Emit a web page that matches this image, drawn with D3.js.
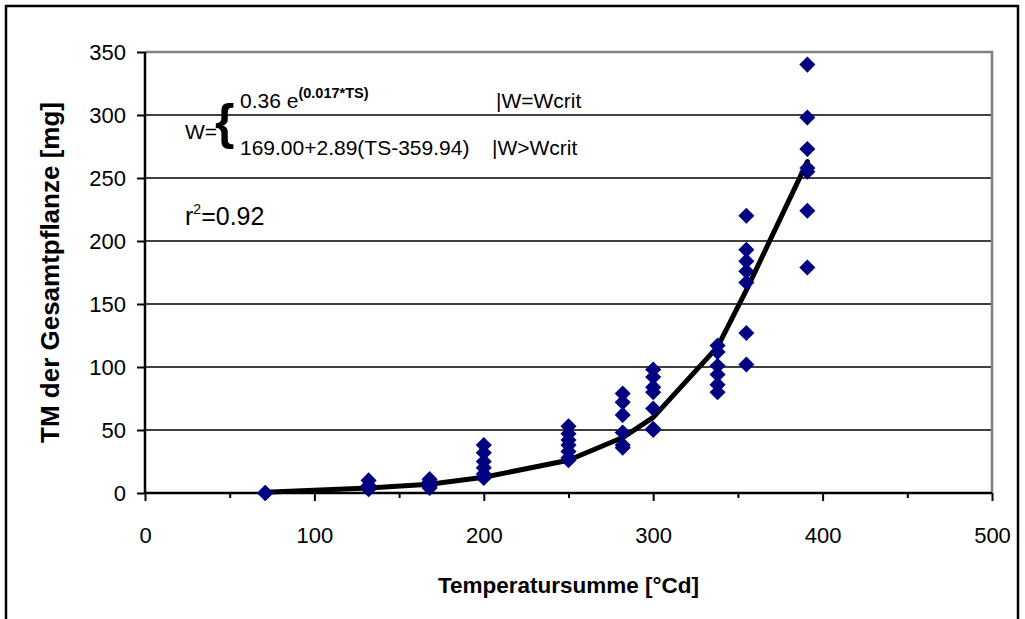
<!DOCTYPE html>
<html>
<head>
<meta charset="utf-8">
<script src="https://cdn.jsdelivr.net/npm/d3@7"></script>
<style>
  body { margin: 0; background: #fff; }
  text { font-family: "Liberation Sans", Arial, sans-serif; fill: #000; }
</style>
</head>
<body>
<script>
// Temperature sums (x) where plants were sampled
const tempSum = [71, 132, 168, 200, 250, 282, 300, 338, 355, 391];
// observed dry matter per sample date (mg)
const observed = [
    [0, 0, 0],
    [10, 6, 4, 3],
    [11, 9, 7, 5, 4],
    [38, 32, 25, 20, 15, 12],
    [53, 47, 42, 38, 33, 28, 26],
    [79, 72, 62, 48, 38, 36],
    [98, 92, 84, 80, 67, 51, 50],
    [117, 112, 101, 94, 86, 80],
    [220, 193, 184, 176, 167, 127, 102],
    [340, 298, 273, 258, 255, 224, 179]
];
// fitted model curve
const fitted = [0.5, 4, 7, 12.5, 26, 44, 60, 116, 161, 263];

const xTicks = [0, 100, 200, 300, 400, 500];
const xMinor = [50, 150, 250, 350, 450];
const yTicks = [0, 50, 100, 150, 200, 250, 300, 350];

const W = 1025, H = 619;
const plot = {left: 145, right: 992, top: 52, bottom: 493};

const svg = d3.select("body").append("svg")
    .attr("width", W)
    .attr("height", H);

// outer frame
svg.append("rect")
    .attr("x", 6).attr("y", 6)
    .attr("width", 1012).attr("height", 640)
    .style("fill", "none")
    .style("stroke", "#000")
    .style("stroke-width", 2.5);

const x = d3.scaleLinear().domain([0, 500]).range([plot.left, plot.right]);
const y = d3.scaleLinear().domain([0, 350]).range([plot.bottom, plot.top]);

// gridlines
svg.append("g")
    .selectAll("line")
    .data(yTicks.filter(d => d > 0 && d < 350))
    .enter().append("line")
    .attr("x1", plot.left).attr("x2", plot.right)
    .attr("y1", d => y(d)).attr("y2", d => y(d))
    .style("stroke", "#000")
    .style("stroke-width", 1.5);

// plot area border (top, right) in grey
svg.append("path")
    .attr("d", "M" + plot.left + "," + y(350) + "H" + plot.right + "V" + plot.bottom)
    .style("fill", "none")
    .style("stroke", "#808080")
    .style("stroke-width", 2.5);

// y axis
const yAxis = svg.append("g")
    .attr("transform", "translate(" + plot.left + ",0)")
    .call(d3.axisLeft(y).tickValues(yTicks).tickSize(8).tickPadding(11));

// x axis
const xAxis = svg.append("g")
    .attr("transform", "translate(0," + plot.bottom + ")")
    .call(d3.axisBottom(x).tickValues(xTicks).tickSize(8).tickPadding(26));

svg.append("g")
    .attr("transform", "translate(0," + plot.bottom + ")")
    .call(d3.axisBottom(x).tickValues(xMinor).tickSize(5).tickFormat(""))
    .select(".domain").remove();

svg.selectAll(".tick line").style("stroke", "#000").style("stroke-width", 2);
svg.selectAll(".domain").style("stroke", "#000").style("stroke-width", 2.5);
yAxis.select(".domain").attr("d", "M0," + y(350) + "V" + plot.bottom);
xAxis.select(".domain").attr("d", "M" + plot.left + ",0H" + plot.right);
svg.selectAll(".tick text")
    .style("font-family", "'Liberation Sans', Arial, sans-serif")
    .style("font-size", "22px")
    .style("fill", "#000");

// fitted curve
const line = d3.line()
    .x((d, i) => x(tempSum[i]))
    .y(d => y(d));

svg.append("path")
    .datum(fitted)
    .attr("d", line)
    .style("fill", "none")
    .style("stroke", "#000")
    .style("stroke-width", 5)
    .style("stroke-linejoin", "round")
    .style("stroke-linecap", "round");

// observations as diamonds
const points = [];
observed.forEach((vals, i) => vals.forEach(v => points.push({ts: tempSum[i], v: v})));

svg.append("g")
    .selectAll("path")
    .data(points)
    .enter().append("path")
    .attr("d", d3.symbol().type(d3.symbolDiamond2).size(165))
    .attr("transform", d => "translate(" + x(d.ts) + "," + y(d.v) + ")")
    .style("fill", "#000080");

// axis titles
svg.append("text")
    .text("Temperatursumme [°Cd]")
    .attr("x", (plot.left + plot.right) / 2)
    .attr("y", 593)
    .attr("text-anchor", "middle")
    .style("font-weight", "bold")
    .style("font-size", "22.5px");

svg.append("text")
    .text("TM der Gesamtpflanze [mg]")
    .attr("transform", "translate(59," + ((plot.top + plot.bottom) / 2) + ") rotate(-90)")
    .attr("text-anchor", "middle")
    .style("font-weight", "bold")
    .style("font-size", "26px");

// equation annotation
const eq = svg.append("g");
eq.append("text").text("W=")
    .attr("x", 185).attr("y", 139)
    .style("font-size", "21px");
eq.append("text").text("{")
    .attr("x", 215).attr("y", 139)
    .style("font-size", "50px")
    .style("font-weight", "bold");
const l1 = eq.append("text").attr("x", 240).attr("y", 108).style("font-size", "21px");
l1.append("tspan").text("0.36 e");
l1.append("tspan").text("(0.017*TS)")
    .attr("dy", -10)
    .style("font-size", "14.5px")
    .style("font-weight", "bold");
eq.append("text").text("|W=Wcrit")
    .attr("x", 496).attr("y", 108)
    .style("font-size", "21px");
eq.append("text").text("169.00+2.89(TS-359.94)")
    .attr("x", 240).attr("y", 155)
    .style("font-size", "21px");
eq.append("text").text("|W>Wcrit")
    .attr("x", 492).attr("y", 155)
    .style("font-size", "21px");

const r2 = svg.append("text").attr("x", 185).attr("y", 225).style("font-size", "25px");
r2.append("tspan").text("r");
r2.append("tspan").text("2").attr("dy", -11).style("font-size", "14px");
r2.append("tspan").text("=0.92").attr("dy", 11);
</script>
</body>
</html>
